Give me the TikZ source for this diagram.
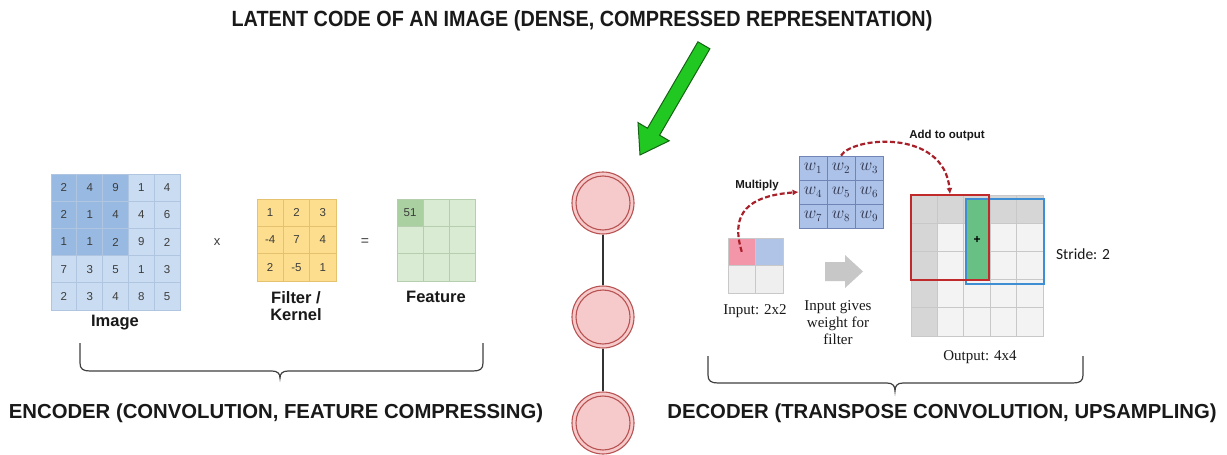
\documentclass[tikz,border=0pt]{standalone}
\usepackage{fontspec}
\setmainfont{Liberation Sans}
\newfontfamily\arialf{Liberation Sans}
\newfontfamily\narrowf[FakeStretch=0.9]{Liberation Sans}
\newfontfamily\timesf{Liberation Serif}
\newfontfamily\calf{Carlito}
\usetikzlibrary{arrows.meta,calc}
\definecolor{imgdark}{RGB}{152,186,226}
\definecolor{imglight}{RGB}{202,220,241}
\definecolor{imgline}{RGB}{176,198,224}
\definecolor{filtfill}{RGB}{252,222,142}
\definecolor{filtline}{RGB}{228,194,112}
\definecolor{featlight}{RGB}{218,235,212}
\definecolor{featdark}{RGB}{170,208,162}
\definecolor{featline}{RGB}{180,206,174}
\definecolor{wfill}{RGB}{172,194,232}
\definecolor{wline}{RGB}{112,132,182}
\definecolor{wtext}{RGB}{45,50,75}
\definecolor{inpink}{RGB}{244,150,170}
\definecolor{inblue}{RGB}{176,196,232}
\definecolor{ingray}{RGB}{239,239,239}
\definecolor{ogray}{RGB}{214,214,214}
\definecolor{olight}{RGB}{243,243,243}
\definecolor{oline}{RGB}{200,200,200}
\definecolor{circfill}{RGB}{246,202,202}
\definecolor{circline}{RGB}{184,82,82}
\definecolor{garrow}{RGB}{34,200,34}
\definecolor{garrowline}{RGB}{20,100,20}
\definecolor{dred}{RGB}{168,32,42}
\definecolor{boxred}{RGB}{192,42,42}
\definecolor{boxblue}{RGB}{62,142,212}
\definecolor{gcol}{RGB}{104,192,132}
\definecolor{numgray}{RGB}{60,60,60}
\definecolor{txt}{RGB}{25,25,25}
\begin{document}
\begin{tikzpicture}[x=1pt,y=-1pt,
  cellbase/.style={rectangle, inner sep=0pt, line width=0.8pt},
  imgcell/.style={cellbase, draw=imgline, minimum width=25.8pt, minimum height=27.2pt,
    font=\arialf\fontsize{11.5}{13}\selectfont, text=numgray},
  filtcell/.style={cellbase, draw=filtline, fill=filtfill, minimum width=26.3pt, minimum height=27.3pt,
    font=\arialf\fontsize{11.5}{13}\selectfont, text=numgray},
  featcell/.style={cellbase, draw=featline, minimum width=26pt, minimum height=27.3pt,
    font=\arialf\fontsize{11.5}{13}\selectfont, text=numgray},
  wcell/.style={cellbase, draw=wline, fill=wfill, minimum width=28pt, minimum height=24pt,
    font=\fontsize{16}{18}\selectfont, text=wtext},
  incell/.style={cellbase, draw=oline, minimum width=27.5pt, minimum height=27.5pt},
  outcell/.style={cellbase, draw=oline, minimum width=26.4pt, minimum height=28.2pt},
  biglabel/.style={font=\arialf\bfseries\fontsize{20.3}{24}\selectfont, text=txt},
  sublabel/.style={font=\arialf\bfseries\fontsize{16.5}{18}\selectfont, text=txt, align=center},
  smallbold/.style={font=\arialf\bfseries\fontsize{11.5}{13}\selectfont, text=txt},
  serif/.style={font=\timesf\fontsize{15}{18}\selectfont, text=txt, align=center},
  latent/.style={circle, minimum size=62pt, inner sep=0pt, fill=circfill, draw=circline, line width=1.1pt},
  link/.style={draw=black!80, line width=2.6pt},
  brace/.style={draw=black!75, line width=1.2pt},
  dasharrow/.style={draw=dred, line width=2.2pt, dash pattern=on 5pt off 2.5pt,
    -{Latex[length=6pt,width=6pt]}},
]
\useasboundingbox (0,0) rectangle (1227,455);
\fill[white] (0,0) rectangle (1227,455);

% title and green arrow
\node[font=\narrowf\bfseries\fontsize{22}{26}\selectfont, text=txt] (title) at (582,21)
  {LATENT CODE OF AN IMAGE (DENSE, COMPRESSED REPRESENTATION)};
\filldraw[fill=garrow, draw=garrowline, line width=1pt, line join=miter]
  (697.9,41.8) -- (709.9,48.8) -- (659.6,135.2) -- (669.2,140.8) -- (640,155)
  -- (638.0,122.6) -- (647.5,128.2) -- cycle;

% latent circles
\node[latent] (c1) at (603,203) {};
\node[latent] (c2) at (603,317) {};
\node[latent] (c3) at (603,423) {};
\draw[link] (c1) -- (c2);
\draw[link] (c2) -- (c3);
\foreach \c in {c1,c2,c3}
  \draw[circline, line width=1.1pt] (\c.center) circle[radius=27pt];

% encoder: image grid
\foreach \row [count=\r] in {{2,4,9,1,4},{2,1,4,4,6},{1,1,2,9,2},{7,3,5,1,3},{2,3,4,8,5}}
  \foreach \v [count=\c] in \row {
    \pgfmathtruncatemacro\dk{(\r<4)&&(\c<4)}
    \ifnum\dk=1 \def\fc{imgdark}\else\def\fc{imglight}\fi
    \node[imgcell, fill=\fc] (img-\r-\c) at ({51+25.8*(\c-0.5)},{174+27.2*(\r-0.5)}) {\v};
  }
\node[sublabel] (imglabel) at (115,323) {Image};
\node[font=\arialf\fontsize{13}{15}\selectfont, text=numgray] (times) at (217,242) {x};

% filter grid
\foreach \row [count=\r] in {{1,2,3},{-4,7,4},{2,-5,1}}
  \foreach \v [count=\c] in \row {
    \node[filtcell] (flt-\r-\c) at ({257+26.3*(\c-0.5)},{199+27.3*(\r-0.5)}) {\v};
  }
\node[sublabel] (fltlabel) at (296,306) {Filter /\\[-1pt]Kernel};
\node[font=\arialf\fontsize{14}{15}\selectfont, text=numgray] (equals) at (365,242) {=};

% feature grid
\foreach \r in {1,2,3}
  \foreach \c in {1,2,3} {
    \node[featcell, fill=featlight] (ft-\r-\c) at ({397+26*(\c-0.5)},{199+27.3*(\r-0.5)}) {};
  }
\node[featcell, fill=featdark] (ft-1-1) at (410,212.65) {51};
\node[sublabel] (ftlabel) at (436,297) {Feature};

% encoder brace and label
\draw[brace] (80,343) -- (80,363) .. controls (80,369) and (83,371) .. (90,371) -- (272,371)
  .. controls (278,371) and (280,374) .. (280,378) .. controls (280,374) and (282,371) .. (288,371)
  -- (473,371) .. controls (480,371) and (483,369) .. (483,363) -- (483,343);
\node[biglabel] (enclabel) at (276,413) {ENCODER (CONVOLUTION, FEATURE COMPRESSING)};

% decoder: weights
\foreach \r in {1,2,3}
  \foreach \c in {1,2,3} {
    \pgfmathtruncatemacro\k{(\r-1)*3+\c}
    \node[wcell] (wt\k) at ({799+28*(\c-0.5)},{156+24*(\r-0.5)}) {$w_{\k}$};
  }
% input 2x2
\node[incell, fill=inpink] (in11) at (741.75,251.75) {};
\node[incell, fill=inblue] (in12) at (769.25,251.75) {};
\node[incell, fill=ingray] (in21) at (741.75,279.25) {};
\node[incell, fill=ingray] (in22) at (769.25,279.25) {};
\node[serif] (inlabel) at (755,311) {Input: 2x2};
\node[smallbold] (mult) at (757,186) {Multiply};
\draw[dasharrow] (in11.center) .. controls (730,213) and (748,196) .. (wt4.west);

% gray arrow
\fill[black!22] (825,262) -- (845,262) -- (845,255) -- (863,271.5) -- (845,288) -- (845,281) -- (825,281) -- cycle;
\node[serif] (gives) at (838,323) {Input gives\\[-1pt]weight for\\[-1pt]filter};

% output grid
\foreach \r in {1,...,5}
  \foreach \c in {1,...,5} {
    \pgfmathtruncatemacro\dk{(\r==1)||(\c==1)}
    \ifnum\dk=1 \def\fc{ogray}\else\def\fc{olight}\fi
    \node[outcell, fill=\fc] (out-\r-\c) at ({911+26.4*(\c-0.5)},{195+28.2*(\r-0.5)}) {};
  }
\node[rectangle, inner sep=0pt, fill=gcol, minimum width=23pt, minimum height=81pt] (greencol) at (977.5,239.5) {};
\node[font=\bfseries\fontsize{12}{12}\selectfont] (plus) at (977,240) {+};
\node[rectangle, draw=boxblue, line width=1.8pt, minimum width=78pt, minimum height=85pt, inner sep=0pt] (bluebox) at (1005,241.5) {};
\node[rectangle, draw=boxred, line width=1.8pt, minimum width=78pt, minimum height=85pt, inner sep=0pt] (redbox) at (950,237.5) {};
\node[smallbold] (addlabel) at (947,136) {Add to output};
\draw[dasharrow] (wt2.north) .. controls (852,137) and (944,128) .. (redbox.north);
\node[font=\calf\fontsize{15.5}{18}\selectfont, text=txt] (stride) at (1083,254) {Stride: 2};
\node[serif] (outlabel) at (980,357) {Output: 4x4};

% decoder brace and label
\draw[brace] (708,356) -- (708,375) .. controls (708,381) and (711,383) .. (718,383) -- (887,383)
  .. controls (893,383) and (895,386) .. (895,391) .. controls (895,386) and (897,383) .. (903,383)
  -- (1073,383) .. controls (1080,383) and (1083,381) .. (1083,375) -- (1083,356);
\node[biglabel] (declabel) at (942,413) {DECODER (TRANSPOSE CONVOLUTION, UPSAMPLING)};
\end{tikzpicture}
\end{document}
